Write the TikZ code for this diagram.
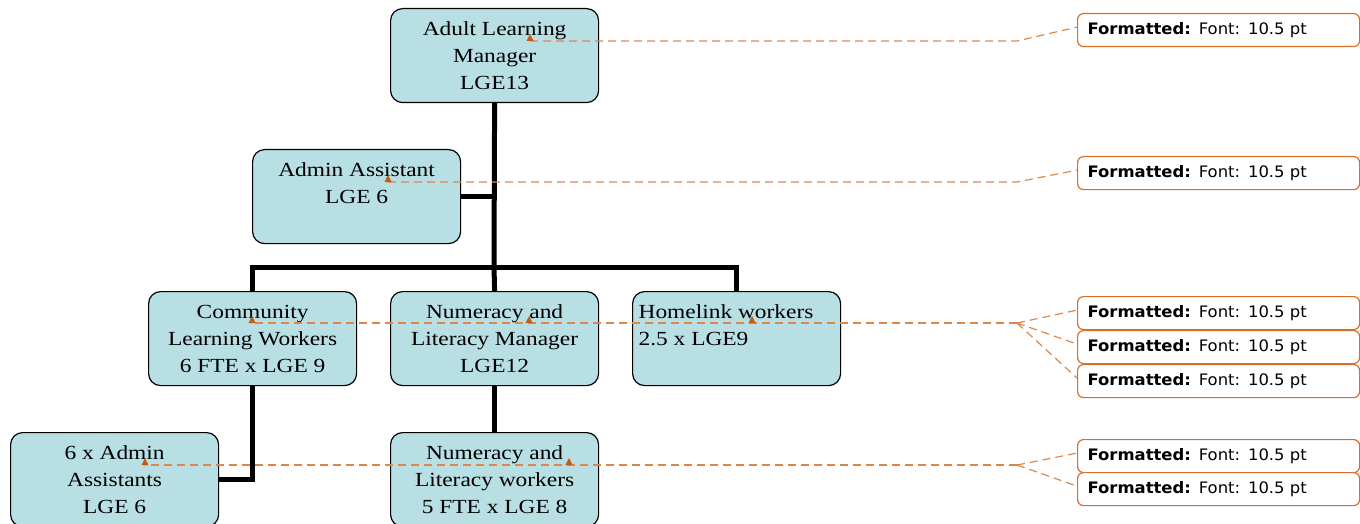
\documentclass[tikz,border=0pt]{standalone}
\usepackage{fontspec}
\usetikzlibrary{calc}
\newfontfamily\boxfont[FakeStretch=1.17]{Liberation Serif}
\newfontfamily\notefont[FakeStretch=1.04]{DejaVu Sans}
\definecolor{boxfill}{RGB}{184,223,227}
\definecolor{noteline}{RGB}{214,112,40}
\definecolor{leadline}{RGB}{222,135,75}
\definecolor{anchorfill}{RGB}{197,90,17}

% text block of an org-chart box: top aligned, centred lines
\newcommand\orgtext[1]{\begin{minipage}[c][94pt][t]{208pt}\centering
  \boxfont\fontsize{20}{27}\selectfont\vspace*{8pt}\strut #1\end{minipage}}
% same, flush left
\newcommand\orgtextleft[1]{\begin{minipage}[c][94pt][t]{208pt}\raggedright\leftskip=6pt
  \boxfont\fontsize{20}{27}\selectfont\vspace*{8pt}\strut #1\end{minipage}}

\tikzset{
  orgbox/.style={draw=black, line width=1.2pt, fill=boxfill, rounded corners=12pt,
    inner sep=0pt, anchor=north west},
  conn/.style={draw=black, line width=5pt},
  note/.style={draw=noteline, line width=1.2pt, rounded corners=6pt, fill=white,
    anchor=north west, minimum width=282pt, minimum height=33pt, inner xsep=10pt,
    inner ysep=0pt, text width=262pt, align=left,
    font=\notefont\fontsize{15.8}{18}\selectfont},
  lead/.style={draw=leadline, dash pattern=on 8pt off 5pt, line width=1.2pt},
  anchormark/.style={fill=anchorfill}
}

\begin{document}
\begin{tikzpicture}[x=1pt,y=-1pt]
\useasboundingbox (0,0) rectangle (1360,524);

% organisation boxes
\node[orgbox] (alm) at (390,8)   {\orgtext{Adult Learning\\Manager\\LGE13}};
\node[orgbox] (aa)  at (252,149) {\orgtext{Admin Assistant\\LGE 6}};
\node[orgbox] (clw) at (148,291) {\orgtext{Community\\Learning Workers\\6 FTE x LGE 9}};
\node[orgbox] (nlm) at (390,291) {\orgtext{Numeracy and\\Literacy Manager\\LGE12}};
\node[orgbox] (hl)  at (632,291) {\orgtextleft{Homelink workers\\2.5 x LGE9}};
\node[orgbox] (aas) at (10,432)  {\orgtext{6 x Admin\\Assistants\\LGE 6}};
\node[orgbox] (nlw) at (390,432) {\orgtext{Numeracy and\\Literacy workers\\5 FTE x LGE 8}};

% reporting lines
\coordinate (bar) at (494,267);
\draw[conn] (alm.south) -- (bar);
\draw[conn] (aa.east) -- (aa.east -| alm.south);
\draw[conn] (clw.north) |- (bar) -| (hl.north);
\draw[conn] (bar) -- (nlm.north);
\draw[conn] (nlm.south) -- (nlw.north);
\draw[conn] (clw.south) |- (aas.east);

% comment balloons
\node[note] (n1) at (1077,13)  {\textbf{Formatted:} Font: 10.5 pt};
\node[note] (n2) at (1077,156) {\textbf{Formatted:} Font: 10.5 pt};
\node[note] (n3) at (1077,296) {\textbf{Formatted:} Font: 10.5 pt};
\node[note] (n4) at (1077,330) {\textbf{Formatted:} Font: 10.5 pt};
\node[note] (n5) at (1077,364) {\textbf{Formatted:} Font: 10.5 pt};
\node[note] (n6) at (1077,439) {\textbf{Formatted:} Font: 10.5 pt};
\node[note] (n7) at (1077,472) {\textbf{Formatted:} Font: 10.5 pt};

% comment anchors and their leader lines
\coordinate (k1) at (530,41);   \coordinate (j1) at (1017,41);
\coordinate (k2) at (388,182);  \coordinate (j2) at (1017,182);
\coordinate (k3a) at (252,323); \coordinate (k3b) at (529,323);
\coordinate (k3c) at (752,323); \coordinate (j3) at (1017,323);
\coordinate (k4a) at (145,465); \coordinate (k4b) at (569,465);
\coordinate (j4) at (1017,465);

\draw[lead] (k1) -- (j1) -- ($(n1.west)+(0,-3)$);
\draw[lead] (k2) -- (j2) -- ($(n2.west)+(0,-3)$);
% shared runs start at the bend so their dashes stay in step
\foreach \k in {k3a,k3b,k3c} \draw[lead] (j3) -- (\k);
\foreach \n in {n3,n4,n5} \draw[lead] (j3) -- ($(\n.west)+(0,-3)$);
\foreach \k in {k4a,k4b} \draw[lead] (j4) -- (\k);
\foreach \n in {n6,n7} \draw[lead] (j4) -- ($(\n.west)+(0,-3)$);

\foreach \k in {k1,k2,k3a,k3b,k3c,k4a,k4b}
  \fill[anchormark] (\k) ++(-3.5,0) -- ++(7,0) -- ++(-3.5,-7) -- cycle;
\end{tikzpicture}
\end{document}
